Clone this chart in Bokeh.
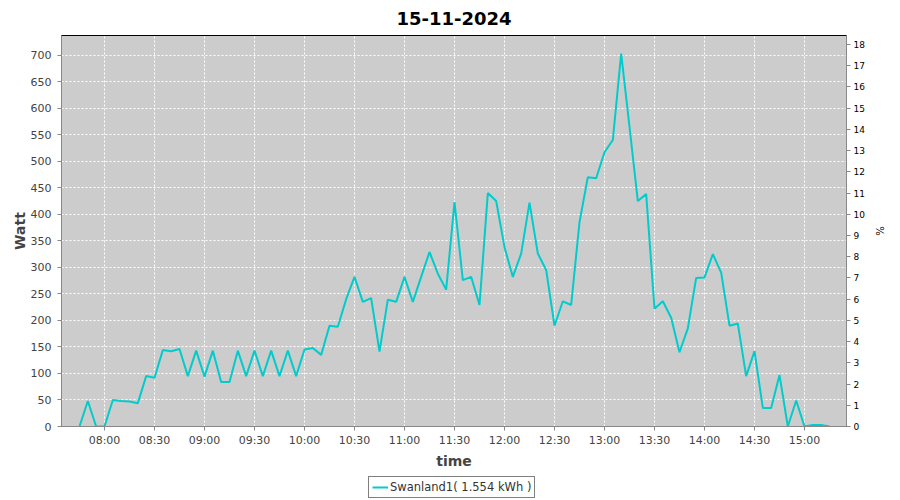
import pandas as pd
from bokeh.plotting import figure
from bokeh.layouts import column
from bokeh.models import (Range1d, LinearAxis, FixedTicker, DatetimeTickFormatter,
                          Legend, LegendItem, SingleIntervalTicker)
from bokeh.embed import file_html
from bokeh.resources import INLINE

title_text = "15-11-2024"
series_name = "Swanland1( 1.554 kWh )"
day = "2024-11-15"
start_time = "07:45"
step = "5min"

watts = [
    0, 48, 0,
    0, 50, 48, 47, 44, 95, 92, 144, 142, 146, 95, 143,
    94, 143, 84, 84, 143, 95, 143, 95, 143, 95, 143, 95,
    145, 148, 135, 190, 188, 240, 282, 235, 242, 141, 239, 235,
    282, 235, 282, 329, 288, 258, 423, 276, 282, 229, 440, 425,
    338, 282, 326, 422, 326, 295, 190, 236, 229, 385, 470, 468,
    517, 540, 703, 565, 425, 438, 222, 236, 205, 140, 185, 280,
    281, 325, 290, 190, 194, 95, 142, 35, 35, 97, 0, 49,
    0, 3, 3, 0,
]

tick_labels = ["08:00", "08:30", "09:00", "09:30", "10:00", "10:30", "11:00", "11:30",
               "12:00", "12:30", "13:00", "13:30", "14:00", "14:30", "15:00"]

x_start = "07:34:12"
x_end = "15:25:12"
y_max = 737
pct_max = 18.42

line_color = "#00cccc"

times = pd.date_range(f"{day} {start_time}", periods=len(watts), freq=step)
tick_ms = [pd.Timestamp(f"{day} {t}").value / 1e6 for t in tick_labels]

p = figure(frame_width=785, frame_height=391, x_axis_type="datetime",
           x_range=Range1d(pd.Timestamp(f"{day} {x_start}"), pd.Timestamp(f"{day} {x_end}")),
           y_range=Range1d(0, y_max),
           output_backend="svg", toolbar_location=None, title=title_text,
           min_border_left=61, min_border_right=54, min_border_top=35, min_border_bottom=48)

p.title.align = "center"
p.title.text_font = "DejaVu Sans"
p.title.text_font_size = "18px"
p.title.text_font_style = "bold"
p.title.text_color = "#000000"
p.title.standoff = 17
p.title.vertical_align = "top"
p.title.offset = 0

p.background_fill_color = "#cccccc"
p.border_fill_color = "white"
p.outline_line_color = "black"
p.outline_line_width = 1

p.xgrid.ticker = FixedTicker(ticks=tick_ms)
p.grid.grid_line_color = "white"
p.grid.grid_line_dash = "2 2"
p.grid.grid_line_width = 1

xa = p.xaxis[0]
xa.ticker = FixedTicker(ticks=tick_ms)
xa.formatter = DatetimeTickFormatter(hours="%H:%M", minutes="%H:%M", hourmin="%H:%M")
xa.axis_label = "time"

ya = p.yaxis[0]
ya.ticker = SingleIntervalTicker(interval=50)
ya.axis_label = "Watt"

for ax in (xa, ya):
    ax.axis_label_text_font = "DejaVu Sans"
    ax.axis_label_text_font_size = "14px"
    ax.axis_label_text_font_style = "bold"
    ax.axis_label_text_color = "#444444"
    ax.major_label_text_font = "DejaVu Sans"
    ax.major_label_text_font_size = "11px"
    ax.major_label_text_color = "#444444"
    ax.axis_line_color = "#888888"
    ax.major_tick_line_color = "#888888"
    ax.major_tick_in = 0
    ax.major_tick_out = 4
    ax.minor_tick_line_color = None

xa.major_label_standoff = 3
xa.axis_label_standoff = 3
ya.major_label_standoff = 6
ya.axis_label_standoff = 0

p.extra_y_ranges = {"pct": Range1d(0, pct_max)}
ra = LinearAxis(y_range_name="pct", ticker=SingleIntervalTicker(interval=1), axis_label="%")
ra.axis_label_text_font = "DejaVu Sans"
ra.axis_label_text_font_size = "10px"
ra.axis_label_text_font_style = "normal"
ra.axis_label_text_color = "#000000"
ra.major_label_text_font = "DejaVu Sans"
ra.major_label_text_font_size = "9px"
ra.major_label_text_color = "#000000"
ra.axis_line_color = "#888888"
ra.major_tick_line_color = "#888888"
ra.major_tick_in = 0
ra.major_tick_out = 4
ra.minor_tick_line_color = None
ra.major_label_standoff = 3
ra.axis_label_standoff = 6
p.add_layout(ra, "right")

p.line(times, watts, line_color=line_color, line_width=2)

# separate strip holding the legend box below the chart
lg = figure(width=900, height=26, output_backend="svg", toolbar_location=None,
            min_border=0, x_range=Range1d(0, 1), y_range=Range1d(0, 1))
lg.axis.visible = False
lg.grid.visible = False
lg.outline_line_color = None
lg.background_fill_color = "white"
lg.border_fill_color = "white"
# legend proxy: a line kept outside the strip's visible range
lr = lg.line(x=[0, 1], y=[5, 5], line_color=line_color, line_width=2)

legend = Legend(items=[LegendItem(label=series_name, renderers=[lr])],
                location=(307, 2), orientation="horizontal")
legend.label_text_font = "DejaVu Sans"
legend.label_text_font_size = "11.5px"
legend.label_text_color = "#333333"
legend.border_line_color = "black"
legend.border_line_width = 1
legend.background_fill_color = "white"
legend.glyph_width = 16
legend.glyph_height = 12
legend.label_height = 14
legend.label_standoff = 2
legend.padding = 3
legend.margin = 0
legend.spacing = 0
lg.add_layout(legend, "center")

layout = column(p, lg, spacing=0)
open("out.html", "w").write(file_html(layout, INLINE))
